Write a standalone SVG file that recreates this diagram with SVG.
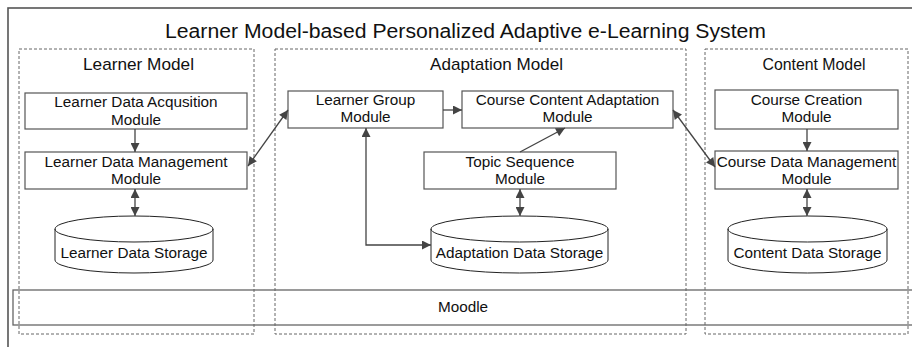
<svg xmlns="http://www.w3.org/2000/svg" width="912" height="347" viewBox="0 0 912 347">
<style>
text{font-family:"Liberation Sans",Arial,sans-serif;fill:#111;text-anchor:middle}
.t{font-size:15.3px}
.h{font-size:17px}
.box{fill:#fff;stroke:#555;stroke-width:1.2}
.dash{fill:none;stroke:#666;stroke-width:1;stroke-dasharray:3,2}
.cyl{fill:#fff;stroke:#222;stroke-width:1}
.c{fill:none;stroke:#444;stroke-width:1.3}
</style>
<defs>
<marker id="ah" viewBox="0 0 10 10" refX="10" refY="5" markerWidth="10" markerHeight="9" markerUnits="userSpaceOnUse" orient="auto-start-reverse">
<path d="M0,0 L10,5 L0,10 Z" fill="#444"/>
</marker>
</defs>
<rect x="8" y="8" width="920" height="360" fill="#fff" stroke="#555" stroke-width="1.6"/>
<text x="465.5" y="38" font-size="20" textLength="601" lengthAdjust="spacingAndGlyphs">Learner Model-based Personalized Adaptive e-Learning System</text>

<g id="learner-model">
<rect class="dash" x="19" y="49" width="235" height="285"/>
<text class="h" x="138.5" y="70" textLength="111" lengthAdjust="spacingAndGlyphs">Learner Model</text>
</g>
<g id="adaptation-model">
<rect class="dash" x="275" y="49" width="411" height="285"/>
<text class="h" x="496.5" y="70" textLength="133" lengthAdjust="spacingAndGlyphs">Adaptation Model</text>
</g>
<g id="content-model">
<rect class="dash" x="705" y="49" width="203" height="285"/>
<text class="h" x="814" y="70" textLength="103" lengthAdjust="spacingAndGlyphs">Content Model</text>
</g>

<g id="moodle">
<rect x="13" y="290" width="920" height="35" fill="none" stroke="#666" stroke-width="1.3"/>
<text class="t" x="463" y="312">Moodle</text>
</g>

<g id="learner-data-acquisition">
<rect class="box" x="25" y="93" width="222" height="36"/>
<text class="t" x="136" y="107">Learner Data Acqusition</text>
<text class="t" x="136" y="124.5">Module</text>
</g>
<g id="learner-data-management">
<rect class="box" x="25" y="152" width="222" height="37"/>
<text class="t" x="136" y="167">Learner Data Management</text>
<text class="t" x="136" y="184">Module</text>
</g>
<g id="learner-data-storage">
<path class="cyl" d="M55,229 L55,260 A79,13 0 0 0 213,260 L213,229 A79,13 0 0 0 55,229 A79,13 0 0 0 213,229"/>
<text class="t" x="134" y="258">Learner Data Storage</text>
</g>

<g id="learner-group">
<rect class="box" x="288" y="91" width="155" height="37"/>
<text class="t" x="365.5" y="105">Learner Group</text>
<text class="t" x="365.5" y="122">Module</text>
</g>
<g id="course-content-adaptation">
<rect class="box" x="462" y="91" width="211" height="37"/>
<text class="t" x="567.5" y="105">Course Content Adaptation</text>
<text class="t" x="567.5" y="122">Module</text>
</g>
<g id="topic-sequence">
<rect class="box" x="424" y="152" width="192" height="37"/>
<text class="t" x="520" y="167">Topic Sequence</text>
<text class="t" x="520" y="184">Module</text>
</g>
<g id="adaptation-data-storage">
<path class="cyl" d="M431,229 L431,260 A88.5,13 0 0 0 608,260 L608,229 A88.5,13 0 0 0 431,229 A88.5,13 0 0 0 608,229"/>
<text class="t" x="519.5" y="258">Adaptation Data Storage</text>
</g>

<g id="course-creation">
<rect class="box" x="715" y="90" width="183" height="39"/>
<text class="t" x="806.5" y="105">Course Creation</text>
<text class="t" x="806.5" y="122">Module</text>
</g>
<g id="course-data-management">
<rect class="box" x="715" y="151" width="183" height="38"/>
<text class="t" x="806.5" y="167">Course Data Management</text>
<text class="t" x="806.5" y="184">Module</text>
</g>
<g id="content-data-storage">
<path class="cyl" d="M728,229 L728,260 A79.5,13 0 0 0 887,260 L887,229 A79.5,13 0 0 0 728,229 A79.5,13 0 0 0 887,229"/>
<text class="t" x="807.5" y="258">Content Data Storage</text>
</g>

<g id="connectors">
<line class="c" x1="135" y1="129" x2="135" y2="152" marker-end="url(#ah)"/>
<line class="c" x1="135" y1="189" x2="135" y2="216" marker-start="url(#ah)" marker-end="url(#ah)"/>
<line class="c" x1="248" y1="166" x2="288" y2="110" marker-start="url(#ah)" marker-end="url(#ah)"/>
<line class="c" x1="443" y1="110" x2="462" y2="110" marker-end="url(#ah)"/>
<line class="c" x1="520" y1="152" x2="565" y2="128" marker-end="url(#ah)"/>
<line class="c" x1="520" y1="189" x2="520" y2="216" marker-start="url(#ah)" marker-end="url(#ah)"/>
<path class="c" d="M366,128 L366,245 L431,245" marker-start="url(#ah)" marker-end="url(#ah)"/>
<line class="c" x1="673" y1="110" x2="715" y2="167" marker-start="url(#ah)" marker-end="url(#ah)"/>
<line class="c" x1="807" y1="129" x2="807" y2="151" marker-end="url(#ah)"/>
<line class="c" x1="807" y1="189" x2="807" y2="216" marker-start="url(#ah)" marker-end="url(#ah)"/>
</g>
</svg>
